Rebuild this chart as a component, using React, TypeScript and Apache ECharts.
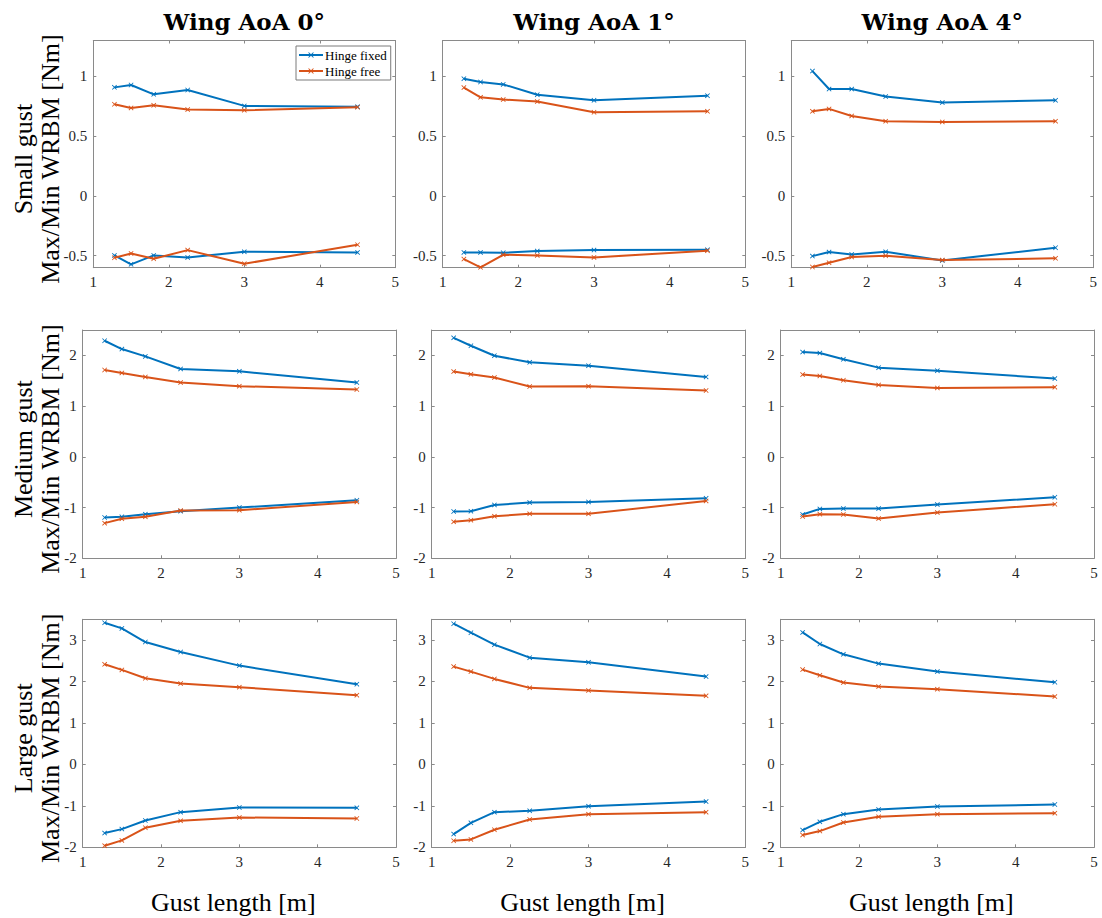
import React, { useEffect, useRef } from 'react';
import * as echarts from 'echarts';

// ---- data ----
const gustLength = [1.28, 1.5, 1.8, 2.25, 3, 4.5];

const smallAoA0FixedMax = [0.908, 0.928, 0.85, 0.886, 0.753, 0.747];
const smallAoA0FreeMax = [0.767, 0.736, 0.758, 0.722, 0.717, 0.742];
const smallAoA0FixedMin = [-0.497, -0.572, -0.497, -0.514, -0.467, -0.472];
const smallAoA0FreeMin = [-0.517, -0.481, -0.525, -0.453, -0.567, -0.408];

const smallAoA1FixedMax = [0.981, 0.953, 0.933, 0.847, 0.8, 0.839];
const smallAoA1FreeMax = [0.906, 0.825, 0.806, 0.789, 0.7, 0.708];
const smallAoA1FixedMin = [-0.472, -0.472, -0.475, -0.461, -0.453, -0.45];
const smallAoA1FreeMin = [-0.528, -0.597, -0.492, -0.497, -0.514, -0.458];

const smallAoA4FixedMax = [1.044, 0.894, 0.894, 0.831, 0.781, 0.8];
const smallAoA4FreeMax = [0.708, 0.728, 0.669, 0.625, 0.619, 0.625];
const smallAoA4FixedMin = [-0.503, -0.469, -0.489, -0.467, -0.539, -0.433];
const smallAoA4FreeMin = [-0.594, -0.558, -0.511, -0.5, -0.536, -0.522];

const mediumAoA0FixedMax = [2.288, 2.124, 1.98, 1.732, 1.686, 1.464];
const mediumAoA0FreeMax = [1.712, 1.654, 1.575, 1.464, 1.392, 1.327];
const mediumAoA0FixedMin = [-1.196, -1.183, -1.131, -1.072, -1.0, -0.856];
const mediumAoA0FreeMin = [-1.307, -1.222, -1.183, -1.059, -1.052, -0.889];

const mediumAoA1FixedMax = [2.346, 2.19, 1.993, 1.863, 1.797, 1.575];
const mediumAoA1FreeMax = [1.68, 1.627, 1.562, 1.386, 1.392, 1.307];
const mediumAoA1FixedMin = [-1.078, -1.072, -0.948, -0.902, -0.889, -0.817];
const mediumAoA1FreeMin = [-1.281, -1.248, -1.17, -1.124, -1.124, -0.869];

const mediumAoA4FixedMax = [2.065, 2.046, 1.922, 1.758, 1.699, 1.542];
const mediumAoA4FreeMax = [1.621, 1.595, 1.51, 1.418, 1.359, 1.373];
const mediumAoA4FixedMin = [-1.137, -1.026, -1.02, -1.02, -0.941, -0.797];
const mediumAoA4FreeMin = [-1.176, -1.131, -1.137, -1.216, -1.098, -0.935];

const largeAoA0FixedMax = [3.417, 3.281, 2.952, 2.711, 2.383, 1.934];
const largeAoA0FreeMax = [2.415, 2.279, 2.078, 1.95, 1.862, 1.669];
const largeAoA0FixedMin = [-1.657, -1.561, -1.353, -1.152, -1.04, -1.048];
const largeAoA0FreeMin = [-1.962, -1.834, -1.529, -1.361, -1.281, -1.305];

const largeAoA1FixedMax = [3.393, 3.176, 2.888, 2.575, 2.463, 2.118];
const largeAoA1FreeMax = [2.359, 2.238, 2.062, 1.846, 1.782, 1.653];
const largeAoA1FixedMin = [-1.681, -1.409, -1.152, -1.12, -1.008, -0.896];
const largeAoA1FreeMin = [-1.842, -1.81, -1.577, -1.329, -1.2, -1.152];

const largeAoA4FixedMax = [3.184, 2.904, 2.655, 2.431, 2.238, 1.982];
const largeAoA4FreeMax = [2.287, 2.15, 1.974, 1.878, 1.814, 1.637];
const largeAoA4FixedMin = [-1.585, -1.385, -1.2, -1.088, -1.016, -0.968];
const largeAoA4FreeMin = [-1.705, -1.609, -1.401, -1.265, -1.2, -1.176];

const columnTitles = ['Wing AoA 0°', 'Wing AoA 1°', 'Wing AoA 4°'];
const rowNames = ['Small gust', 'Medium gust', 'Large gust'];
const yAxisName = 'Max/Min WRBM [Nm]';
const xAxisName = 'Gust length [m]';
const seriesNames = ['Hinge fixed', 'Hinge free'];
const xTicks = [1, 2, 3, 4, 5];
const yTicksSmall = [-0.5, 0, 0.5, 1];
const yTicksMedium = [-2, -1, 0, 1, 2];
const yTicksLarge = [-2, -1, 0, 1, 2, 3];
const yRangeSmall = [-0.6, 1.3];
const yRangeMedium = [-2, 2.5];
const yRangeLarge = [-2, 3.5];
const xRange = [1, 5];

// ---- layout / style ----
const BLUE = '#0072BD';
const ORANGE = '#D95319';
const AXIS = '#8a8a8a';
const TICKTXT = '#262626';
const SERIF = 'Liberation Serif';
const XMARK = 'path://M0,1.2L1.2,0L5,3.8L8.8,0L10,1.2L6.2,5L10,8.8L8.8,10L5,6.2L1.2,10L0,8.8L3.8,5Z';

const rowTop = [40.5, 330, 619.3];
const rowHeight = [227.2, 228.3, 228];
const colLeftByRow = [
  [93.3, 442.7, 791.3],
  [82.7, 431.7, 780.7],
  [82.7, 431.7, 780.7],
];
const colWidthByRow = [
  [302, 302.6, 302],
  [313.3, 313.6, 313.3],
  [313.3, 313.6, 313.3],
];

const panels = [
  [
    [smallAoA0FixedMax, smallAoA0FixedMin, smallAoA0FreeMax, smallAoA0FreeMin],
    [smallAoA1FixedMax, smallAoA1FixedMin, smallAoA1FreeMax, smallAoA1FreeMin],
    [smallAoA4FixedMax, smallAoA4FixedMin, smallAoA4FreeMax, smallAoA4FreeMin],
  ],
  [
    [mediumAoA0FixedMax, mediumAoA0FixedMin, mediumAoA0FreeMax, mediumAoA0FreeMin],
    [mediumAoA1FixedMax, mediumAoA1FixedMin, mediumAoA1FreeMax, mediumAoA1FreeMin],
    [mediumAoA4FixedMax, mediumAoA4FixedMin, mediumAoA4FreeMax, mediumAoA4FreeMin],
  ],
  [
    [largeAoA0FixedMax, largeAoA0FixedMin, largeAoA0FreeMax, largeAoA0FreeMin],
    [largeAoA1FixedMax, largeAoA1FixedMin, largeAoA1FreeMax, largeAoA1FreeMin],
    [largeAoA4FixedMax, largeAoA4FixedMin, largeAoA4FreeMax, largeAoA4FreeMin],
  ],
];
const yTicksByRow = [yTicksSmall, yTicksMedium, yTicksLarge];
const yRangeByRow = [yRangeSmall, yRangeMedium, yRangeLarge];

function buildOption() {
  const grid: any[] = [];
  const xAxis: any[] = [];
  const yAxis: any[] = [];
  const series: any[] = [];
  const graphic: any[] = [];

  for (let r = 0; r < 3; r++) {
    for (let c = 0; c < 3; c++) {
      const gi = grid.length;
      grid.push({
        left: colLeftByRow[r][c],
        top: rowTop[r],
        width: colWidthByRow[r][c],
        height: rowHeight[r],
        containLabel: false,
        show: false,
      });
      const tickCommon = { show: true, inside: true, length: 3, lineStyle: { color: AXIS, width: 1 } };
      xAxis.push({
        type: 'value', gridIndex: gi, position: 'bottom', min: xRange[0], max: xRange[1], interval: 1,
        axisLine: { show: true, onZero: false, lineStyle: { color: AXIS, width: 1 } },
        axisTick: { ...tickCommon, customValues: xTicks },
        axisLabel: { show: true, margin: 7, color: TICKTXT, fontFamily: SERIF, fontSize: 15, customValues: xTicks },
        splitLine: { show: false },
      });
      xAxis.push({
        type: 'value', gridIndex: gi, position: 'top', min: xRange[0], max: xRange[1], interval: 1,
        axisLine: { show: true, onZero: false, lineStyle: { color: AXIS, width: 1 } },
        axisTick: { ...tickCommon, customValues: xTicks },
        axisLabel: { show: false },
        splitLine: { show: false },
      });
      const yt = yTicksByRow[r];
      const yr = yRangeByRow[r];
      yAxis.push({
        type: 'value', gridIndex: gi, position: 'left', min: yr[0], max: yr[1],
        axisLine: { show: true, onZero: false, lineStyle: { color: AXIS, width: 1 } },
        axisTick: { ...tickCommon, customValues: yt },
        axisLabel: { show: true, margin: 6, color: TICKTXT, fontFamily: SERIF, fontSize: 15, customValues: yt },
        splitLine: { show: false },
      });
      yAxis.push({
        type: 'value', gridIndex: gi, position: 'right', min: yr[0], max: yr[1],
        axisLine: { show: true, onZero: false, lineStyle: { color: AXIS, width: 1 } },
        axisTick: { ...tickCommon, customValues: yt },
        axisLabel: { show: false },
        splitLine: { show: false },
      });

      const arrs = panels[r][c];
      const defs = [
        { name: seriesNames[0], data: arrs[0], color: BLUE },
        { name: seriesNames[0], data: arrs[1], color: BLUE },
        { name: seriesNames[1], data: arrs[2], color: ORANGE },
        { name: seriesNames[1], data: arrs[3], color: ORANGE },
      ];
      defs.forEach((d, k) => {
        series.push({
          type: 'line',
          name: d.name,
          xAxisIndex: 2 * gi,
          yAxisIndex: 2 * gi,
          data: gustLength.map((x, i) => [x, d.data[i]]),
          symbol: XMARK,
          symbolSize: 5,
          showSymbol: true,
          lineStyle: { color: d.color, width: 2 },
          itemStyle: { color: d.color },
          z: 2 + Math.floor(k / 2),
          silent: true,
        });
      });
    }
  }

  // column titles
  for (let c = 0; c < 3; c++) {
    const cx = colLeftByRow[0][c] + colWidthByRow[0][c] / 2;
    graphic.push({
      type: 'text', x: cx, y: 21,
      style: {
        text: columnTitles[c], fill: '#000',
        fontFamily: 'DejaVu Serif', fontWeight: 'bold', fontSize: 23,
        align: 'center', verticalAlign: 'middle', textAlign: 'center', textVerticalAlign: 'middle',
      },
    });
  }
  // row labels
  for (let r = 0; r < 3; r++) {
    const cy = rowTop[r] + rowHeight[r] / 2 + 5;
    graphic.push({
      type: 'text', x: 36.5, y: cy, rotation: Math.PI / 2,
      style: {
        text: rowNames[r] + '\n' + yAxisName, fill: '#000',
        fontFamily: SERIF, fontSize: 26, lineHeight: 27,
        align: 'center', verticalAlign: 'middle', textAlign: 'center', textVerticalAlign: 'middle',
      },
    });
  }
  // x axis names
  for (let c = 0; c < 3; c++) {
    const cx = colLeftByRow[2][c] + colWidthByRow[2][c] / 2 - 6;
    graphic.push({
      type: 'text', x: cx, y: 902,
      style: {
        text: xAxisName, fill: '#000',
        fontFamily: SERIF, fontSize: 26,
        align: 'center', verticalAlign: 'middle', textAlign: 'center', textVerticalAlign: 'middle',
      },
    });
  }

  return {
    animation: false,
    backgroundColor: '#ffffff',
    grid,
    xAxis,
    yAxis,
    series,
    graphic,
    legend: {
      data: seriesNames,
      orient: 'vertical',
      left: 296,
      top: 46,
      backgroundColor: '#fff',
      borderColor: '#7a7a7a',
      borderWidth: 1,
      borderRadius: 0,
      padding: [2, 4, 2, 2],
      itemWidth: 24,
      itemHeight: 7,
      itemGap: 2,
      selectedMode: false,
      textStyle: { fontFamily: SERIF, fontSize: 13, color: '#000', lineHeight: 14, padding: [0, 0, 0, -3] },
    },
  };
}

export default function App() {
  const ref = useRef<HTMLDivElement>(null);
  useEffect(() => {
    if (!ref.current) return;
    const chart = echarts.init(ref.current, null, { renderer: 'svg' });
    chart.setOption(buildOption() as any);
    return () => chart.dispose();
  }, []);
  return (
    <div
      ref={ref}
      style={{ position: 'absolute', left: 0, top: 0, width: 1102, height: 918, background: '#fff' }}
    />
  );
}
